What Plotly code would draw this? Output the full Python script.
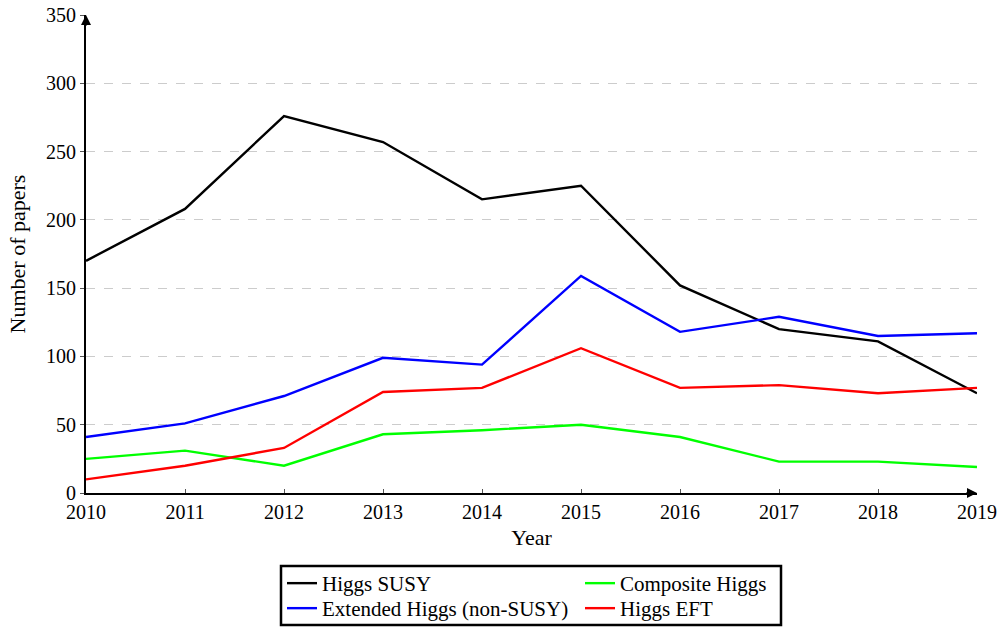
import plotly.graph_objects as go

years = [2010, 2011, 2012, 2013, 2014, 2015, 2016, 2017, 2018, 2019]
higgs_susy = [170, 208, 276, 257, 215, 225, 152, 120, 111, 73]
extended_higgs = [41, 51, 71, 99, 94, 159, 118, 129, 115, 117]
composite_higgs = [25, 31, 20, 43, 46, 50, 41, 23, 23, 19]
higgs_eft = [10, 20, 33, 74, 77, 106, 77, 79, 73, 77]
y_ticks = [0, 50, 100, 150, 200, 250, 300, 350]

FONT = "Liberation Serif"
FS = 20
LFS = 21
TFS = 22

fig = go.Figure()
fig.add_trace(go.Scatter(x=years, y=higgs_susy, mode="lines", name="Higgs SUSY",
                         line=dict(color="#000000", width=2.4), legend="legend"))
fig.add_trace(go.Scatter(x=years, y=extended_higgs, mode="lines", name="Extended Higgs (non-SUSY)",
                         line=dict(color="#0000ff", width=2.4), legend="legend2"))
fig.add_trace(go.Scatter(x=years, y=composite_higgs, mode="lines", name="Composite Higgs",
                         line=dict(color="#00ff00", width=2.4), legend="legend3"))
fig.add_trace(go.Scatter(x=years, y=higgs_eft, mode="lines", name="Higgs EFT",
                         line=dict(color="#ff0000", width=2.4), legend="legend4"))

W, H = 1000, 628
ml, mr, mt, mb = 86, 23, 15, 135
pw, ph = W - ml - mr, H - mt - mb

def px_x(p):
    return (p - ml) / pw

def px_y(p):
    return (H - mb - p) / ph

def leg(xp, yp):
    return dict(x=px_x(xp), y=px_y(yp), xanchor="left", yanchor="top",
                bgcolor="rgba(0,0,0,0)", borderwidth=0, font=dict(size=LFS),
                itemwidth=30, tracegroupgap=0)

fig.update_layout(
    width=W, height=H,
    margin=dict(l=ml, r=mr, t=mt, b=mb, autoexpand=False),
    paper_bgcolor="white", plot_bgcolor="white",
    font=dict(family=FONT, size=FS, color="#000000"),
    xaxis=dict(range=[years[0], years[-1]], tickvals=years, ticktext=[str(y) for y in years],
               showgrid=False, zeroline=False, showline=True, linecolor="black", linewidth=2,
               ticks="inside", ticklen=4, tickcolor="#555555", tickwidth=1, automargin=False,
               title=dict(text="Year", standoff=8, font=dict(size=TFS)), tickfont=dict(size=FS)),
    yaxis=dict(range=[0, 350], tickvals=y_ticks, showgrid=True, gridcolor="#cccccc",
               griddash="dash", gridwidth=1, zeroline=False, showline=True, linecolor="black",
               linewidth=2, ticks="outside", ticklen=4, tickcolor="#555555", tickwidth=1,
               automargin=False,
               title=dict(text="Number of papers", standoff=14, font=dict(size=TFS)),
               tickfont=dict(size=FS)),
    legend=leg(282, 563),
    legend2=leg(282, 588),
    legend3=leg(580, 563),
    legend4=leg(580, 588),
    showlegend=True,
)

# legend frame
fig.add_shape(type="rect", xref="paper", yref="paper",
              x0=px_x(281), x1=px_x(781), y0=px_y(625), y1=px_y(566),
              line=dict(color="black", width=2.5), fillcolor="rgba(0,0,0,0)")

# axis arrowheads
fig.add_annotation(x=years[-1], y=0, xref="x", yref="y", ax=-12, ay=0,
                   showarrow=True, arrowhead=2, arrowsize=1, arrowwidth=2,
                   arrowcolor="black", text="")
fig.add_annotation(x=years[0], y=350, xref="x", yref="y", ax=0, ay=12,
                   showarrow=True, arrowhead=2, arrowsize=1, arrowwidth=2,
                   arrowcolor="black", text="")

fig.write_html("out.html", config={"displayModeBar": False},
               post_script="document.body.style.margin='0px';document.body.style.overflow='hidden';")
